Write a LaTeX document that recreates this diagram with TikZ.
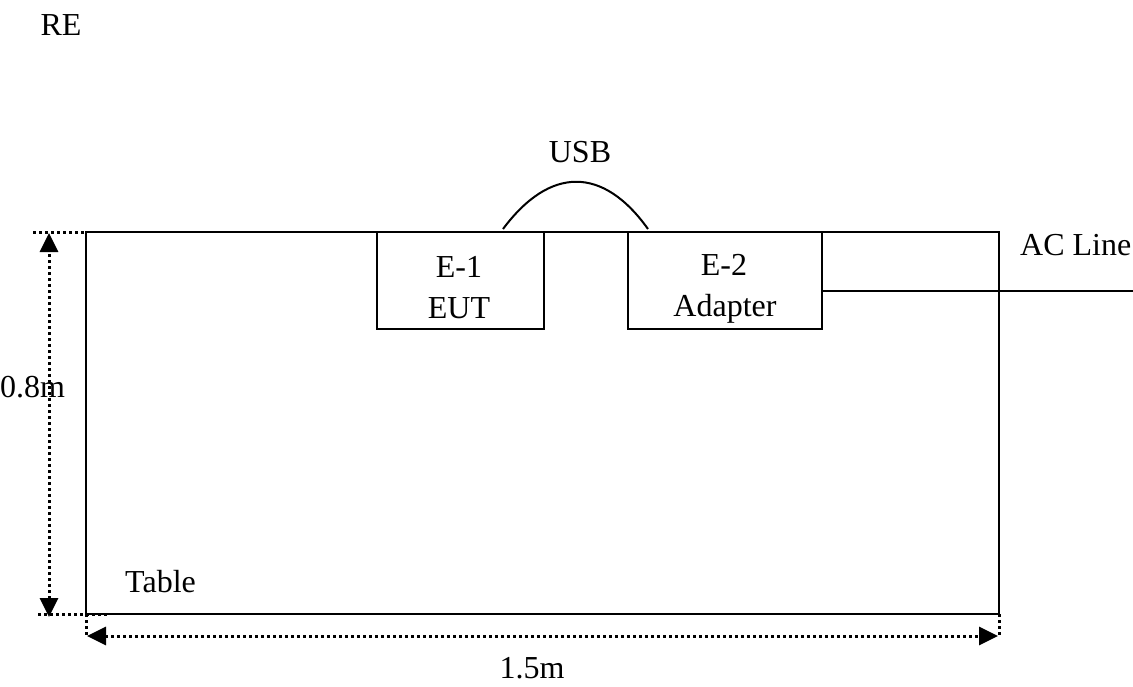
\documentclass[tikz,border=0pt]{standalone}
\usepackage{fontspec}
\setmainfont{Liberation Serif}
\usetikzlibrary{arrows.meta}
\begin{document}
\begin{tikzpicture}[x=1pt,y=-1pt,
  box/.style={draw,line width=2.2pt,outer sep=0pt,inner sep=0pt},
  lbl/.style={font=\fontsize{32}{41}\selectfont, inner sep=0pt, anchor=base},
  dots/.style={line width=3pt, dash pattern=on 3pt off 3pt},
  dimarrow/.style={dots, {Triangle[length=19pt,width=18pt]}-{Triangle[length=19pt,width=18pt]}},
  wire/.style={line width=2.2pt}
]
\useasboundingbox (0,0) rectangle (1133,686);
% table and equipment
\node[box, minimum width=913pt, minimum height=382pt, anchor=north west] (table) at (86,232) {};
\node[box, minimum width=167pt, minimum height=97pt, anchor=north west] (e1) at (377,232) {};
\node[box, minimum width=194pt, minimum height=97pt, anchor=north west] (e2) at (628,232) {};
% texts
\node[lbl] (re) at (61,35) {RE};
\node[lbl] (usb) at (580,162) {USB};
\node[lbl] (e1a) at (459,277) {E-1};
\node[lbl] (e1b) at (459,318) {EUT};
\node[lbl] (e2a) at (724,275) {E-2};
\node[lbl] (e2b) at (725,316) {Adapter};
\node[lbl, anchor=base west] (ac) at (1020,255) {AC Line};
\node[lbl, anchor=base west] (tbl) at (125,592) {Table};
\node[lbl, anchor=base west] (h) at (0,397) {0.8m};
\node[lbl] (w) at (532,678) {1.5m};
% USB cable
\coordinate (usbA) at (503,229);
\coordinate (usbB) at (648,229);
\draw[line width=2pt] (usbA) .. controls (550,166) and (603,166) .. (usbB);
% AC line
\coordinate (acEnd) at (1133,291);
\draw[wire] (e2.east |- acEnd) -- (acEnd);
% dimension guides
\coordinate (gTL) at (33,232);
\coordinate (gBL) at (38,614);
\coordinate (gBR) at (107,614);
\coordinate (gL) at (86,637);
\coordinate (gR) at (999,635);
\draw[dots] (gTL) -- (table.north west);
\draw[dots] (gBL) -- (gBR);
\draw[dots] (table.south west) -- (gL);
\draw[dots] (table.south east) -- (gR);
\coordinate (vTop) at (49,233);
\coordinate (vBot) at (49,617);
\coordinate (hL) at (87,636);
\coordinate (hR) at (998,636);
\draw[dimarrow] (vBot) -- (vTop);
\draw[dimarrow] (hL) -- (hR);
\end{tikzpicture}
\end{document}
